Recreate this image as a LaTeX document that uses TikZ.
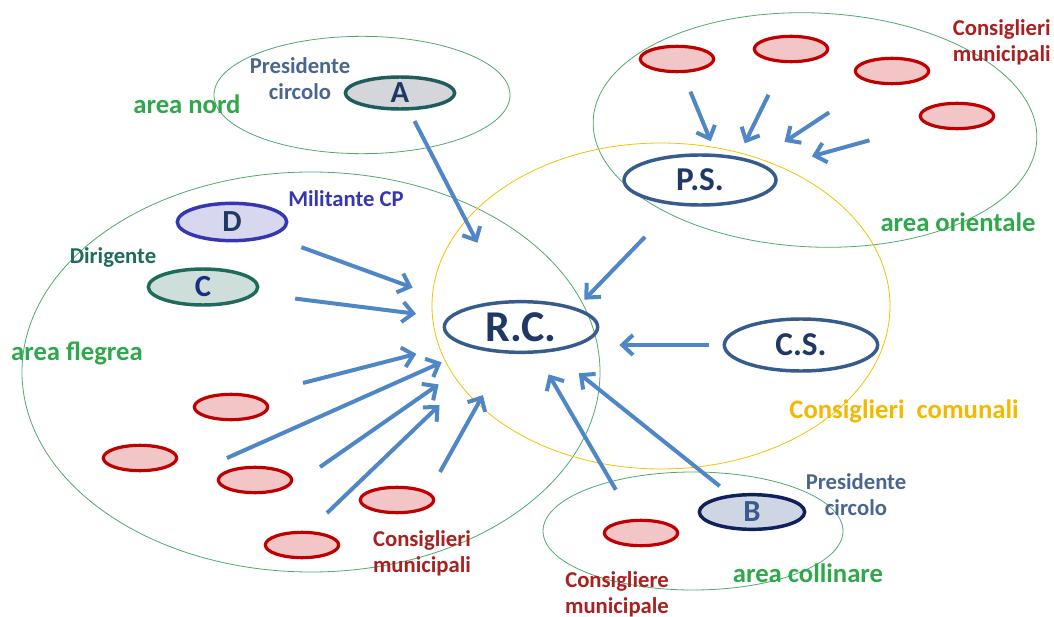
\documentclass[tikz,border=0pt]{standalone}
\usepackage{fontspec}
\setmainfont{Carlito}
\usetikzlibrary{shapes,arrows.meta,calc,positioning}

\definecolor{areagreen}{HTML}{2EA84A}
\definecolor{ringgreen}{HTML}{4FA870}
\definecolor{ringyellow}{HTML}{F2C200}
\definecolor{labelyellow}{HTML}{F5B800}
\definecolor{cmred}{HTML}{C00000}
\definecolor{cmfill}{HTML}{F2C6C6}
\definecolor{cmtext}{HTML}{A82020}
\definecolor{arrowblue}{HTML}{4F86C6}
\definecolor{navy}{HTML}{1F3864}
\definecolor{steel}{HTML}{375B8C}
\definecolor{presblue}{HTML}{4A6690}
\definecolor{militblue}{HTML}{3636B0}
\definecolor{dirteal}{HTML}{1E6B5B}

\begin{document}
\begin{tikzpicture}[x=0.75pt, y=-0.75pt,
  member/.style={ellipse, draw, line width=2.6pt, inner sep=0pt, minimum width=82pt, minimum height=27pt, font=\bfseries\fontsize{23}{23}\selectfont},
  leader/.style={ellipse, draw=steel, line width=2.6pt, inner sep=0pt, minimum width=115pt, minimum height=38pt, text=navy, font=\bfseries\fontsize{25}{25}\selectfont},
  council/.style={ellipse, draw=cmred, fill=cmfill, line width=2.4pt, inner sep=0pt, minimum width=55pt, minimum height=19pt},
  area/.style={draw=ringgreen, line width=0.6pt},
  arealabel/.style={text=areagreen, inner sep=0pt, font=\bfseries\fontsize{20}{24}\selectfont},
  note/.style={align=center, inner sep=0pt, font=\bfseries\fontsize{17}{19.5}\selectfont},
  arr/.style={draw=arrowblue, line width=3pt, -{Straight Barb[length=8pt,width=15pt]}}
]
\useasboundingbox (0,0) rectangle (1054,617);

%areas
\draw[area] (362,95) ellipse [x radius=111pt, y radius=44pt];
\draw[area, rotate around={-2.5:(815,130)}] (815,130) ellipse [x radius=166.5pt, y radius=87.75pt];
\draw[area] (311,372) ellipse [x radius=216.75pt, y radius=150pt];
\draw[area] (693,531) ellipse [x radius=112.5pt, y radius=44.25pt];
\draw[draw=ringyellow, line width=0.6pt] (661,306) ellipse [x radius=171.75pt, y radius=122.25pt];

%main nodes
\node[leader, minimum height=37.5pt, minimum width=114pt] (ps) at (700,180) {P.S.};
\node[leader, font=\bfseries\fontsize{33}{33}\selectfont] (rc) at (521,327) {R.C.};
\node[leader, minimum height=39pt] (cs) at (801,345) {C.S.};

\node[member, draw=dirteal!70!navy, fill=black!4!blue!10!gray!30, minimum height=24pt, text=navy] (A) at (400,93) {A};
\node[member, draw=militblue, fill=militblue!20, minimum height=28pt, text=navy] (D) at (232,222) {D};
\node[member, draw=dirteal, fill=dirteal!22, text=navy!80!blue] (C) at (203,287) {C};
\node[member, draw=navy!80!blue!70!black, fill=steel!25, minimum width=79pt, minimum height=26pt, text=steel] (B) at (752,512) {B};

%consiglieri
\node[council] (or1) at (677,59) {};
\node[council] (or2) at (791,49) {};
\node[council] (or3) at (892,71) {};
\node[council] (or4) at (957,116) {};

\node[council] (fl1) at (231,407) {};
\node[council] (fl2) at (140,458) {};
\node[council] (fl3) at (255,480) {};
\node[council] (fl4) at (397,500) {};
\node[council] (fl5) at (302,545) {};

\node[council] (co1) at (641,533) {};

%labels
\node[note, text=presblue] (presa) at (300,79) {Presidente\\circolo};
\node[arealabel] (nord) at (187,104) {area nord};
\node[note, text=cmtext, align=right, anchor=east] (cmtop) at (1051,42) {Consiglieri\\municipali};
\node[note, text=militblue] (milit) at (346,199) {Militante CP};
\node[note, text=dirteal] (dirig) at (113,257) {Dirigente};
\node[arealabel] (flegrea) at (77,353) {area flegrea};
\node[arealabel] (orient) at (958,222) {area orientale};
\node[arealabel, text=labelyellow] (comun) at (904,411) {Consiglieri\ \ comunali};
\node[note, text=presblue] (presb) at (856,495) {Presidente\\circolo};
\node[note, text=cmtext] (cmleft) at (422,553) {Consiglieri\\municipali};
\node[note, text=cmtext] (cmcoll) at (617,594) {Consigliere\\municipale};
\node[arealabel] (collin) at (808,573) {area collinare};

%arrows
\coordinate (f1) at (303,383);
\coordinate (f2) at (227,458);
\coordinate (f3) at (320,467);
\coordinate (f4) at (327,513);
\coordinate (f5) at (440,472);
\coordinate (psin) at ([xshift=20pt]ps.center);

\draw[arr] ($(A)!0.12!(rc)$) -- ($(A)!0.64!(rc)$);
\draw[arr] ($(D)!0.24!(rc)$) -- ($(D)!0.625!(rc)$);
\draw[arr] ($(C)!0.29!(rc)$) -- ($(C)!0.67!(rc)$);
\draw[arr] (f1) -- ($(f1)!0.52!(rc)$);
\draw[arr] (f2) -- ($(f2)!0.73!(rc)$);
\draw[arr] (f3) -- ($(f3)!0.59!(rc)$);
\draw[arr] (f4) -- ($(f4)!0.58!(rc)$);
\draw[arr] (f5) -- ($(f5)!0.53!(rc)$);

\draw[arr] ($(or1)!0.27!(psin)$) -- ($(or1)!0.68!(psin)$);
\draw[arr] ($(or2)!0.35!(psin)$) -- ($(or2)!0.72!(psin)$);
\draw[arr] ($(or3)!0.38!(psin)$) -- ($(or3)!0.65!(psin)$);
\draw[arr] ($(or4)!0.38!(psin)$) -- ($(or4)!0.63!(psin)$);

\draw[arr] ($(ps)!0.445!(rc.north east)$) -- ($(ps)!0.936!(rc.north east)$);
\draw[arr, shorten <=10.5pt, shorten >=15pt] (cs.west) -- (cs.west -| rc.east);
\draw[arr] ($(co1)!0.21!(rc)$) -- ($(co1)!0.77!(rc)$);
\draw[arr] ($(B)!0.14!(rc)$) -- ($(B)!0.75!(rc)$);

\end{tikzpicture}
\end{document}
